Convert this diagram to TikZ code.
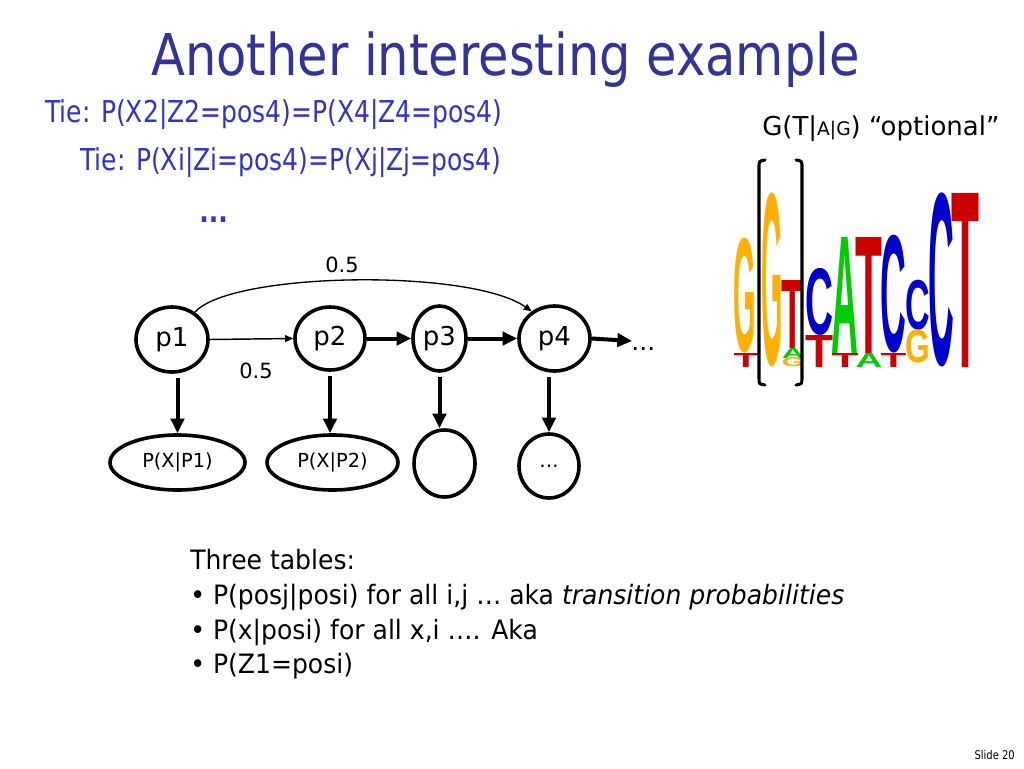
\documentclass[tikz,border=0pt]{standalone}
\usepackage{fontspec}
\setmainfont{DejaVu Sans}[FakeStretch=0.83]
\newfontfamily\titlefont{DejaVu Sans}[FakeStretch=0.86]
\newfontfamily\widefont{DejaVu Sans}
\newfontfamily\midfont{DejaVu Sans}[FakeStretch=0.94]
\newfontfamily\logofont{Liberation Sans}
\usetikzlibrary{arrows.meta,shapes.geometric}
\definecolor{titleblue}{RGB}{51,51,153}
\definecolor{tieblue}{RGB}{51,51,204}
\definecolor{lgorange}{RGB}{255,176,0}
\definecolor{lgred}{RGB}{204,0,0}
\definecolor{lgblue}{RGB}{0,0,204}
\definecolor{lggreen}{RGB}{0,204,0}
\newcommand\logoL[6]{%
  \node[inner sep=0pt, outer sep=0pt, anchor=south west] (logo-#1-#4) at ({#1-0.06*(#2-#1)},#4)
    {\resizebox*{\dimexpr(#2pt-#1pt)*84/100\relax}{\dimexpr(#4pt-#3pt)*3/4\relax}{\color{#5}\logofont\bfseries #6}};}
\begin{document}
\begin{tikzpicture}[x=0.75pt,y=-0.75pt,
  txt/.style={anchor=base west, inner sep=0pt},
  state/.style={ellipse, draw, line width=2.7pt, inner sep=0pt, font=\widefont\fontsize{19.5pt}{20pt}\selectfont},
  emit/.style={ellipse, draw, line width=2.7pt, inner sep=0pt, font=\widefont\fontsize{14.5pt}{15pt}\selectfont},
  thickarrow/.style={line width=3pt, -{Triangle[length=11pt,width=10pt]}},
  thinarrow/.style={line width=1.1pt, -{Triangle[length=6pt,width=5pt]}},
  lbl/.style={inner sep=0pt, font=\widefont\fontsize{15.7pt}{16pt}\selectfont},
  bottomtext/.style={txt, font=\midfont\fontsize{20pt}{22pt}\selectfont},
  bracket/.style={line width=2.3pt, line cap=round}
]
\useasboundingbox[fill=white] (0,0) rectangle (1024,768);

% title and tie texts
\node[txt, text=titleblue, font=\titlefont\fontsize{43.2pt}{48pt}\selectfont] (title) at (151,75) {Another interesting example};
\node[txt, text=tieblue, font=\fontsize{22.6pt}{24pt}\selectfont] (tie1) at (45,122) {Tie: P(X2|Z2=pos4)=P(X4|Z4=pos4)};
\node[txt, text=tieblue, font=\fontsize{22.6pt}{24pt}\selectfont] (tie2) at (80,170) {Tie: P(Xi|Zi=pos4)=P(Xj|Zj=pos4)};
\node[txt, text=tieblue, font=\fontsize{22.6pt}{24pt}\selectfont\bfseries] (tiedots) at (199,222) {...};

% states
\node[state, minimum width=54pt, minimum height=48.75pt] (p1) at (172,339.5) {p1};
\node[state, minimum width=52.5pt, minimum height=47.25pt] (p2) at (330,338.5) {p2};
\node[state, minimum width=39.75pt, minimum height=48.75pt] (p3) at (439.5,338.5) {p3};
\node[state, minimum width=53.25pt, minimum height=48.75pt] (p4) at (554.5,338.5) {p4};
\coordinate (dotsend) at (632,341);
\node[txt, font=\widefont\fontsize{18pt}{20pt}\selectfont] (more) at (631,350) {…};

% emissions
\node[emit, minimum width=101.25pt, minimum height=41.25pt] (e1) at (177.5,462.5) {P(X|P1)};
\node[emit, minimum width=98.25pt, minimum height=41.25pt] (e2) at (332.5,462.5) {P(X|P2)};
\node[emit, minimum width=45.75pt, minimum height=50.25pt] (e3) at (444.5,463.5) {};
\node[emit, minimum width=45pt, minimum height=48pt] (e4) at (549,466) {…};

% transitions
\draw[thinarrow] (p1.east) -- (p2.west);
\draw[thickarrow] (p2.east) -- (p3.west);
\draw[thickarrow] (p3.east) -- (p4.west);
\draw[thickarrow] (p4.east) -- (dotsend);
\draw[thinarrow, line width=1pt] (p1.50) .. controls (230,272) and (470,268) .. (p4.130);
\node[lbl] (l1) at (256,371) {0.5};
\node[lbl] (l2) at (342,265) {0.5};

% emission arrows
\draw[thickarrow, shorten <=3pt] (p1.south -| e1.north) -- (e1.north);
\draw[thickarrow, shorten <=3pt] (p2.south) -- (p2.south |- e2.north);
\draw[thickarrow, shorten <=3pt] (p3.south) -- (p3.south |- e3.north);
\draw[thickarrow, shorten <=3pt] (p4.south -| e4.north) -- (e4.north);

% optional label
\node[txt, font=\widefont\fontsize{19.5pt}{20pt}\selectfont] (gopt) at (762,135) {G(T|{\fontsize{14pt}{15pt}\selectfont A|G}) “optional”};

% sequence logo
\logoL{735}{755}{238}{353}{lgorange}{G}
\logoL{735}{757}{353}{367}{lgred}{T}
\logoL{763}{782}{193}{367}{lgorange}{G}
\logoL{783}{803}{280}{348}{lgred}{T}
\logoL{783}{803}{348}{358}{lggreen}{A}
\logoL{783}{803}{358}{367}{lgorange}{G}
\logoL{807}{832}{268}{335}{lgblue}{C}
\logoL{807}{832}{335}{367}{lgred}{T}
\logoL{833}{857}{237}{353}{lggreen}{A}
\logoL{833}{857}{353}{367}{lgred}{T}
\logoL{857}{881}{237}{353}{lgred}{T}
\logoL{857}{881}{353}{367}{lggreen}{A}
\logoL{882}{905}{235}{353}{lgblue}{C}
\logoL{882}{905}{353}{367}{lgred}{T}
\logoL{907}{929}{280}{330}{lgblue}{C}
\logoL{907}{929}{330}{363}{lgorange}{G}
\logoL{930}{953}{193}{367}{lgblue}{C}
\logoL{953}{978}{193}{367}{lgred}{T}

% bracket
\draw[bracket] (765,160) .. controls (759,161) .. (759,168) -- (759,378) .. controls (759,384) .. (765,385);
\draw[bracket] (796,160) .. controls (802,161) .. (802,168) -- (802,378) .. controls (802,384) .. (796,385);

% bottom text
\node[bottomtext] (b0) at (190,569) {Three tables:};
\node[bottomtext] (b1) at (190,604) {• P(posj|posi) for all i,j … aka \textit{transition probabilities}};
\node[bottomtext] (b2) at (190,639) {• P(x|posi) for all x,i …. Aka};
\node[bottomtext] (b3) at (190,673) {• P(Z1=posi)};

\node[anchor=base east, inner sep=0pt, font=\fontsize{9pt}{10pt}\selectfont] (slide) at (1015,759) {Slide 20};
\end{tikzpicture}
\end{document}
